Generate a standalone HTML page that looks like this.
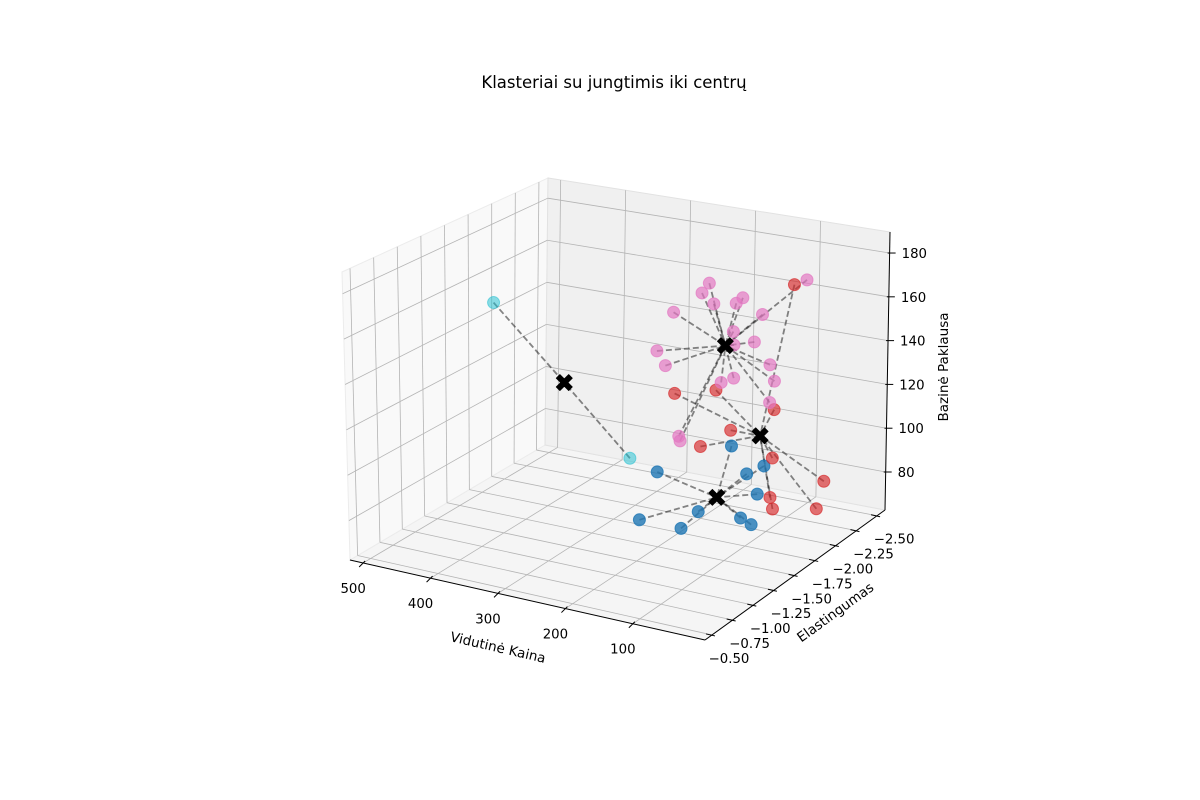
<!DOCTYPE html>
<html><head><meta charset="utf-8"><style>
html,body{margin:0;padding:0;background:#fff;}
svg{display:block;font-family:"DejaVu Sans","Liberation Sans",sans-serif;}
</style></head><body>
<svg id="chart" width="1200" height="800" viewBox="0 0 1200 800" xmlns="http://www.w3.org/2000/svg">
<rect width="1200" height="800" fill="#fff"/>
<text x="614" y="88" text-anchor="middle" font-size="16.5" fill="#000">Klasteriai su jungtimis iki centrų</text>
<g id="panes"></g>
<g id="grid"></g>
<g id="axes"></g>
<g id="links"></g>
<g id="points"></g>
<g id="centers"></g>
<text x="0" y="0" transform="translate(497,652) rotate(13)" text-anchor="middle" font-size="13.5">Vidutinė Kaina</text>
<text x="0" y="0" transform="translate(838,616) rotate(-36)" text-anchor="middle" font-size="13.5">Elastingumas</text>
<text x="0" y="0" transform="translate(948,367) rotate(-90)" text-anchor="middle" font-size="13.5">Bazinė Paklausa</text>
</svg>
<script>
// ---- data ----
const xTicks = [100, 200, 300, 400, 500];
const yTicks = [-2.5, -2.25, -2.0, -1.75, -1.5, -1.25, -1.0, -0.75, -0.5];
const yTickLabels = ["−2.50","−2.25","−2.00","−1.75","−1.50","−1.25","−1.00","−0.75","−0.50"];
const zTicks = [80, 100, 120, 140, 160, 180];
const clusterColors = ["#1f77b4", "#d62728", "#e377c2", "#17becf"];
const clusterNames = ["blue", "red", "pink", "cyan"];
const centerX = [111, 123, 164, 314];
const centerY = [-1.5, -2.1, -2.0, -1.3];
const centerZ = [90, 102, 143, 134];
const pointCluster = [
 0,0,0,0,0,0,0,0,0,0,
 1,1,1,1,1,1,1,1,1,1,1,
 2,2,2,2,2,2,2,2,2,2,2,2,2,2,2,2,2,2,2,2,
 3,3];
const pointX = [
 89,40,66,201,50,139,228,165,75,59,
 73,254,191,102,168,214,104,25,107,103,36,
 189,200,182,148,138,243,108,152,151,120,268,255,96,89,170,151,96,234,232,41,
 419,216];
const pointY = [
 -1.5,-1.5,-1.5,-1.5,-1.5,-1.5,-1.5,-1.5,-1.5,-1.5,
 -2.1,-2.1,-2.1,-2.1,-2.1,-2.1,-2.1,-2.1,-2.1,-2.1,-2.1,
 -2.0,-2.0,-2.0,-2.0,-2.0,-2.0,-2.0,-2.0,-2.0,-2.0,-2.0,-2.0,-2.0,-2.0,-2.0,-2.0,-2.0,-2.0,-2.0,-2.0,
 -1.3,-1.3];
const pointZ = [
 114,108,103,96,95,82,73,73,83,81,
 173,114,119,115,102,92,93,87,75,70,74,
 170,165,161,163,166,154,160,150,144,147,135,129,138,131,126,129,121,98,96,179,
 164,106];

// ---- projection ----
const XMIN=-7, XMAX=519.5, YFRONT=-0.415, YBACK=-2.596, ZMIN=62.65, ZMAX=189.6;
const C = {
 f0:[705,640], l0:[350,560], r0:[885,510], b0:[545,445],
 f1:[703,340], l1:[342,272], r1:[890,232], b1:[548,178]};
function proj(x,y,z){
  const tx=(x-XMIN)/(XMAX-XMIN), ty=(YFRONT-y)/(YFRONT-YBACK), tz=(z-ZMIN)/(ZMAX-ZMIN);
  const w=[(1-tx)*(1-ty), tx*(1-ty), (1-tx)*ty, tx*ty];
  const bot=[C.f0,C.l0,C.r0,C.b0], top=[C.f1,C.l1,C.r1,C.b1];
  let bx=0,by=0,ux=0,uy=0;
  for(let i=0;i<4;i++){bx+=w[i]*bot[i][0];by+=w[i]*bot[i][1];ux+=w[i]*top[i][0];uy+=w[i]*top[i][1];}
  return [bx+(ux-bx)*tz, by+(uy-by)*tz];
}
const NS="http://www.w3.org/2000/svg";
function mk(tag, parent, attrs){const e=document.createElementNS(NS,tag);for(const k in attrs)e.setAttribute(k,attrs[k]);parent.appendChild(e);return e;}
function poly(pts){return pts.map(p=>p[0].toFixed(1)+","+p[1].toFixed(1)).join(" ");}

const panes=document.getElementById("panes"), grid=document.getElementById("grid"), axes=document.getElementById("axes");
let e;
e=mk("polygon",panes,{points:poly([proj(XMIN,YFRONT,ZMIN),proj(XMAX,YFRONT,ZMIN),proj(XMAX,YBACK,ZMIN),proj(XMIN,YBACK,ZMIN)]),fill:"#f5f5f5",stroke:"#e6e6e6","stroke-width":1});


e=mk("polygon",panes,{points:poly([proj(XMAX,YFRONT,ZMIN),proj(XMAX,YBACK,ZMIN),proj(XMAX,YBACK,ZMAX),proj(XMAX,YFRONT,ZMAX)]),fill:"#f9f9f9",stroke:"#ececec","stroke-width":1});


e=mk("polygon",panes,{points:poly([proj(XMAX,YBACK,ZMIN),proj(XMIN,YBACK,ZMIN),proj(XMIN,YBACK,ZMAX),proj(XMAX,YBACK,ZMAX)]),fill:"#f0f0f0",stroke:"#e2e2e2","stroke-width":1});



function gl(a,b,name){const l=mk("line",grid,{x1:a[0],y1:a[1],x2:b[0],y2:b[1],stroke:"#b4b4b4","stroke-width":0.8});
 
 }
xTicks.forEach(v=>{gl(proj(v,YFRONT,ZMIN),proj(v,YBACK,ZMIN),"x-grid-floor");gl(proj(v,YBACK,ZMIN),proj(v,YBACK,ZMAX),"x-grid-back");});
yTicks.forEach(v=>{gl(proj(XMIN,v,ZMIN),proj(XMAX,v,ZMIN),"y-grid-floor");gl(proj(XMAX,v,ZMIN),proj(XMAX,v,ZMAX),"y-grid-left");});
zTicks.forEach(v=>{gl(proj(XMAX,YFRONT,v),proj(XMAX,YBACK,v),"z-grid-left");gl(proj(XMAX,YBACK,v),proj(XMIN,YBACK,v),"z-grid-back");});

function al(a,b,name,w){const l=mk("line",axes,{x1:a[0],y1:a[1],x2:b[0],y2:b[1],stroke:"#000","stroke-width":w||1});
 
 }
function tl(x,y,txt,anchor,name){const t=mk("text",axes,{x:x,y:y,"text-anchor":anchor,"font-size":13.3,fill:"#000"});t.textContent=txt;
 
 }
al(proj(XMIN,YFRONT,ZMIN),proj(XMAX,YFRONT,ZMIN),"x-axis-line");
al(proj(XMIN,YFRONT,ZMIN),proj(XMIN,YBACK,ZMIN),"y-axis-line");
al(proj(XMIN,YBACK,ZMIN),proj(XMIN,YBACK,ZMAX),"z-axis-line");
xTicks.forEach(v=>{const p=proj(v,YFRONT,ZMIN);al([p[0]+2,p[1]-2],[p[0]-4,p[1]+4],"x-tick");tl(p[0]-10,p[1]+30,String(v),"middle","x-tick-label");});
yTicks.forEach((v,i)=>{const p=proj(XMIN,v,ZMIN);al([p[0]-6,p[1]-1],[p[0]+3,p[1]+1],"y-tick");tl(p[0]+17,p[1]+28,yTickLabels[i],"middle","y-tick-label");});
zTicks.forEach(v=>{const p=proj(XMIN,YBACK,v);al([p[0]-2,p[1]],[p[0]+6,p[1]],"z-tick");tl(p[0]+12,p[1]+5,String(v),"start","z-tick-label");});

const links=document.getElementById("links");
pointX.forEach((_,i)=>{const c=pointCluster[i];const a=proj(pointX[i],pointY[i],pointZ[i]),b=proj(centerX[c],centerY[c],centerZ[c]);
 const l=mk("line",links,{x1:a[0],y1:a[1],x2:b[0],y2:b[1],stroke:"#000","stroke-opacity":0.47,"stroke-width":1.8,"stroke-dasharray":"6,3"});
 
 });
const pts=document.getElementById("points");
const alphas=[0.8,0.65,0.7,0.5];
pointX.forEach((_,i)=>{const c=pointCluster[i];const p=proj(pointX[i],pointY[i],pointZ[i]);
 const d=mk("circle",pts,{cx:p[0],cy:p[1],r:6.0,fill:clusterColors[c],"fill-opacity":alphas[c],stroke:clusterColors[c],"stroke-opacity":alphas[c]});
 
 });
const cg=document.getElementById("centers");
centerX.forEach((_,c)=>{const p=proj(centerX[c],centerY[c],centerZ[c]);const s=8,t=3.6;
 const d=`M${p[0]-s},${p[1]-s+t} L${p[0]-s+t},${p[1]-s} L${p[0]},${p[1]-t} L${p[0]+s-t},${p[1]-s} L${p[0]+s},${p[1]-s+t} L${p[0]+t},${p[1]} L${p[0]+s},${p[1]+s-t} L${p[0]+s-t},${p[1]+s} L${p[0]},${p[1]+t} L${p[0]-s+t},${p[1]+s} L${p[0]-s},${p[1]+s-t} L${p[0]-t},${p[1]} Z`;
 const m=mk("path",cg,{d:d,fill:"#000",stroke:"#000","stroke-width":0.8,"stroke-linejoin":"round"});
 
 });
</script>
</body></html>
